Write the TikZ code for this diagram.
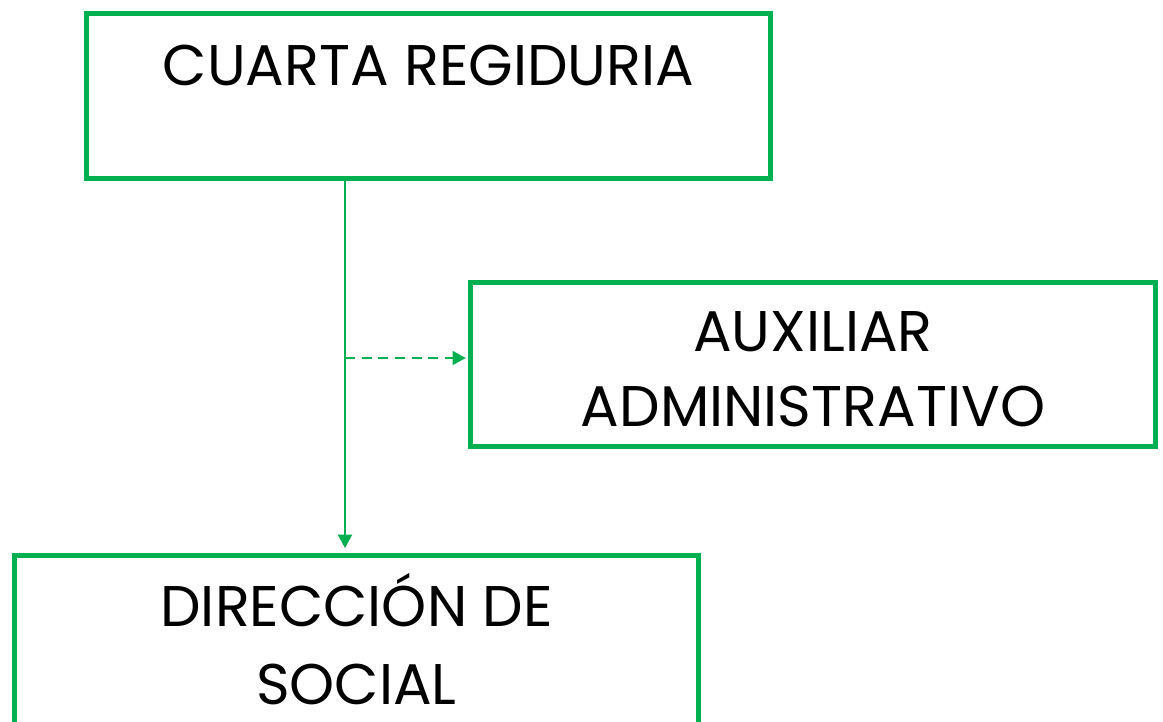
\documentclass[tikz,border=0pt]{standalone}
\usepackage{fontspec}
\setmainfont{Poppins}
\usetikzlibrary{arrows.meta}
\definecolor{orggreen}{HTML}{00B050}
\tikzset{
  box/.style={draw=orggreen, line width=3.75pt, anchor=north west, inner sep=0pt, outer sep=0pt},
  lbl/.style={align=center, font=\fontsize{43}{56}\selectfont, text=black},
  conn/.style={draw=orggreen, line width=1.5pt, -{Triangle[width=10.5pt,length=10pt]}}
}
\begin{document}
\begin{tikzpicture}[x=0.75pt, y=-0.75pt]
    \useasboundingbox (0,0) rectangle (1163,721);

    % Boxes
    \node (creg) [box, minimum width=513pt, minimum height=123.75pt] at (86.5,13.5) {};
    \node (aux) [box, minimum width=513.75pt, minimum height=123pt] at (470.5,282.5) {};
    \node (dir) [box, minimum width=513pt, minimum height=135pt] at (14.5,555.5) {};

    % Labels
    \node (cregtxt) [lbl] at (creg.north |- 0,65) {CUARTA REGIDURIA};
    \node (auxtxt) [lbl] at ([yshift=-3.75pt]aux.center) {AUXILIAR\\ADMINISTRATIVO};
    \node (dirtxt) [lbl, font=\fontsize{43}{58.5}\selectfont] at (356.5,639) {DIRECCIÓN DE\\SOCIAL};

    % Connectors
    \coordinate (branch) at (345,358);
    \draw[conn, shorten >=5.6pt] (creg.south -| branch) -- (dir.north -| branch);
    \draw[conn, dash pattern=on 7.5pt off 5pt, shorten >=3.5pt] (branch) -- (aux.west |- branch);

\end{tikzpicture}
\end{document}
